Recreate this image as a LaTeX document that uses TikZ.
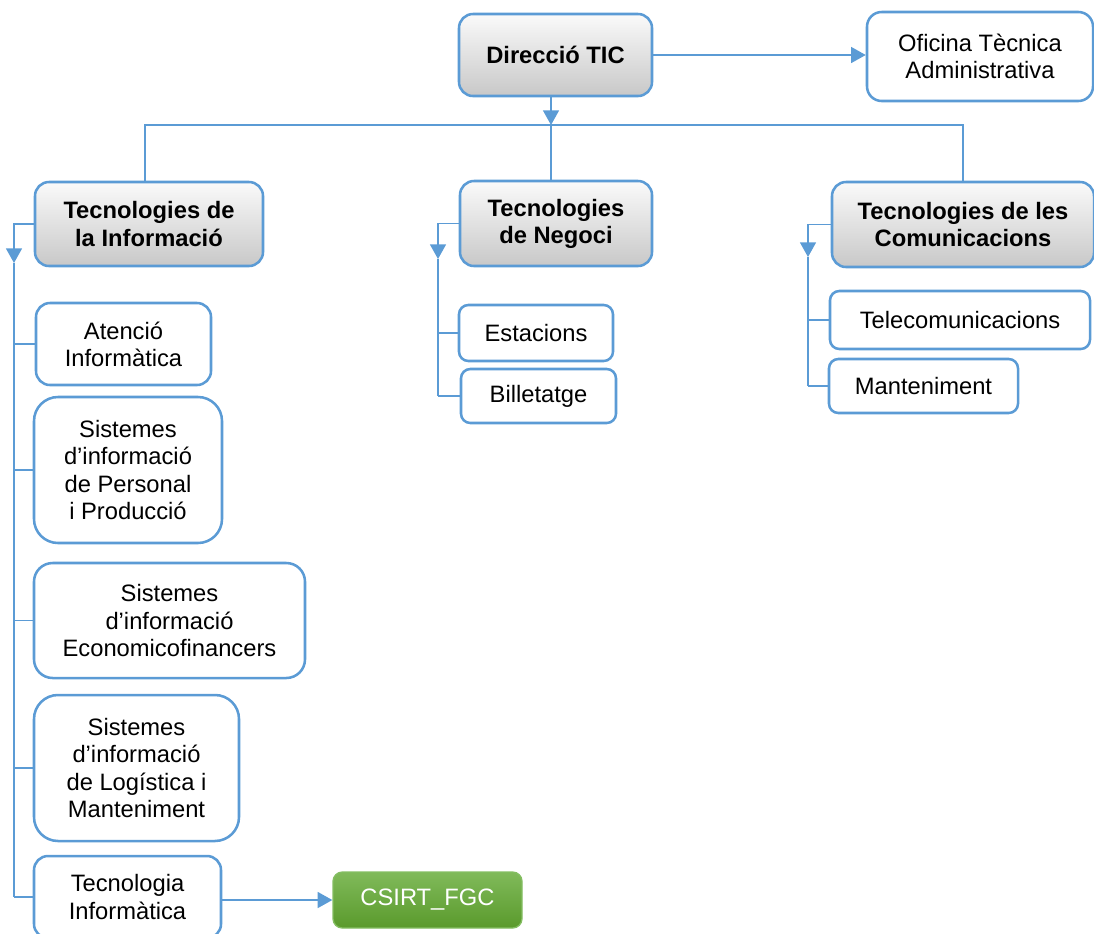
\documentclass[tikz,border=0pt]{standalone}
\usepackage{fontspec}
\setmainfont{Liberation Sans}
\usepackage{tikz}
\usetikzlibrary{shapes,arrows.meta}
\definecolor{linkblue}{RGB}{91,155,213}
\definecolor{headtop}{RGB}{250,250,250}
\definecolor{headbot}{RGB}{200,200,200}
\definecolor{csirttop}{RGB}{128,186,90}
\definecolor{csirtbot}{RGB}{90,154,44}
\definecolor{csirtline}{RGB}{132,190,98}
\tikzset{unit/.style = {shape=rectangle,draw=linkblue,line width=1.9pt,fill=white,align=center,inner sep=0pt,font=\fontsize{17.8}{20.3}\selectfont}}
\tikzset{head/.style = {unit,font=\fontsize{17.8}{20.3}\selectfont\bfseries,top color=headtop,bottom color=headbot}}
\tikzset{link/.style = {draw=linkblue,line width=1.1pt}}
\tikzset{edge/.style = {link,-{Triangle[width=12pt,length=11pt]}}}

\begin{document}
\begin{tikzpicture}[x=0.75pt,y=-0.75pt]
		\useasboundingbox (0,0) rectangle (1094,933);
		% heads
		\node[head,rounded corners=10.5pt,minimum width=144.75pt,minimum height=61.5pt] (dir) at (555.5,55) {Direcció TIC};
		\node[unit,rounded corners=11pt,minimum width=169.5pt,minimum height=66.75pt] (ofi) at (980,56.5) {Oficina Tècnica\\Administrativa};
		\node[head,rounded corners=10.5pt,minimum width=171pt,minimum height=63pt] (ti) at (149,224) {Tecnologies de\\la Informació};
		\node[head,rounded corners=10.5pt,minimum width=144pt,minimum height=63.75pt] (tn) at (556,223.5) {Tecnologies\\de Negoci};
		\node[head,rounded corners=10.5pt,minimum width=196.5pt,minimum height=63.75pt] (tc) at (963,224.5) {Tecnologies de les\\Comunicacions};
		% units
		\node[unit,rounded corners=10.5pt,minimum width=131.25pt,minimum height=61.5pt] (aten) at (123.5,344) {Atenció\\Informàtica};
		\node[unit,rounded corners=18pt,minimum width=141pt,minimum height=109.5pt] (pers) at (128,470) {Sistemes\\d’informació\\de Personal\\i Producció};
		\node[unit,rounded corners=14pt,minimum width=203.25pt,minimum height=86.25pt] (eco) at (169.5,620.5) {Sistemes\\d’informació\\Economicofinancers};
		\node[unit,rounded corners=18pt,minimum width=153.75pt,minimum height=109.5pt] (logi) at (136.5,768) {Sistemes\\d’informació\\de Logística i\\Manteniment};
		\node[unit,rounded corners=10.5pt,minimum width=140.25pt,minimum height=61.5pt] (tinf) at (127.5,897) {Tecnologia\\Informàtica};
		\node[unit,rounded corners=7pt,draw=csirtline,line width=1pt,top color=csirttop,bottom color=csirtbot,text=white,minimum width=141.75pt,minimum height=42pt] (csirt) at (427.5,900) {CSIRT\_FGC};
		\node[unit,rounded corners=7pt,minimum width=115.5pt,minimum height=42pt] (est) at (536,333) {Estacions};
		\node[unit,rounded corners=7pt,minimum width=116.25pt,minimum height=40.5pt] (bil) at (538.5,396) {Billetatge};
		\node[unit,rounded corners=7pt,minimum width=195pt,minimum height=43.5pt] (tel) at (960,320) {Telecomunicacions};
		\node[unit,rounded corners=7pt,minimum width=141.75pt,minimum height=40.5pt] (man) at (923.5,386) {Manteniment};
		% bends
		\coordinate (bus) at (551,125);
		\coordinate (busL) at (145,125);
		\coordinate (tiA) at (14,263);
		\coordinate (tnA) at (438,259);
		\coordinate (tcA) at (808,257);
		%edges
		\draw[edge] (dir.east) -- (dir.east -| ofi.west);
		\draw[edge] (bus |- dir.south) -- (bus);
		\draw[link] (busL |- ti.north) -- (busL) -- (bus) -| (tc.north);
		\draw[link] (bus) -- (bus |- tn.north);
		\draw[edge] (ti.west) -| (tiA);
		\draw[link] (tiA) -- (tiA |- tinf.west);
		\foreach \n in {aten,pers,eco,logi,tinf}
			\draw[link] (tiA |- \n.west) -- (\n.west);
		\draw[edge] (tn.west) -| (tnA);
		\draw[link] (tnA) -- (tnA |- bil.west);
		\foreach \n in {est,bil}
			\draw[link] (tnA |- \n.west) -- (\n.west);
		\draw[edge] (tc.west) -| (tcA);
		\draw[link] (tcA) -- (tcA |- man.west);
		\foreach \n in {tel,man}
			\draw[link] (tcA |- \n.west) -- (\n.west);
		\draw[edge] (tinf.east |- csirt.west) -- (csirt.west);
	\end{tikzpicture}
\end{document}
